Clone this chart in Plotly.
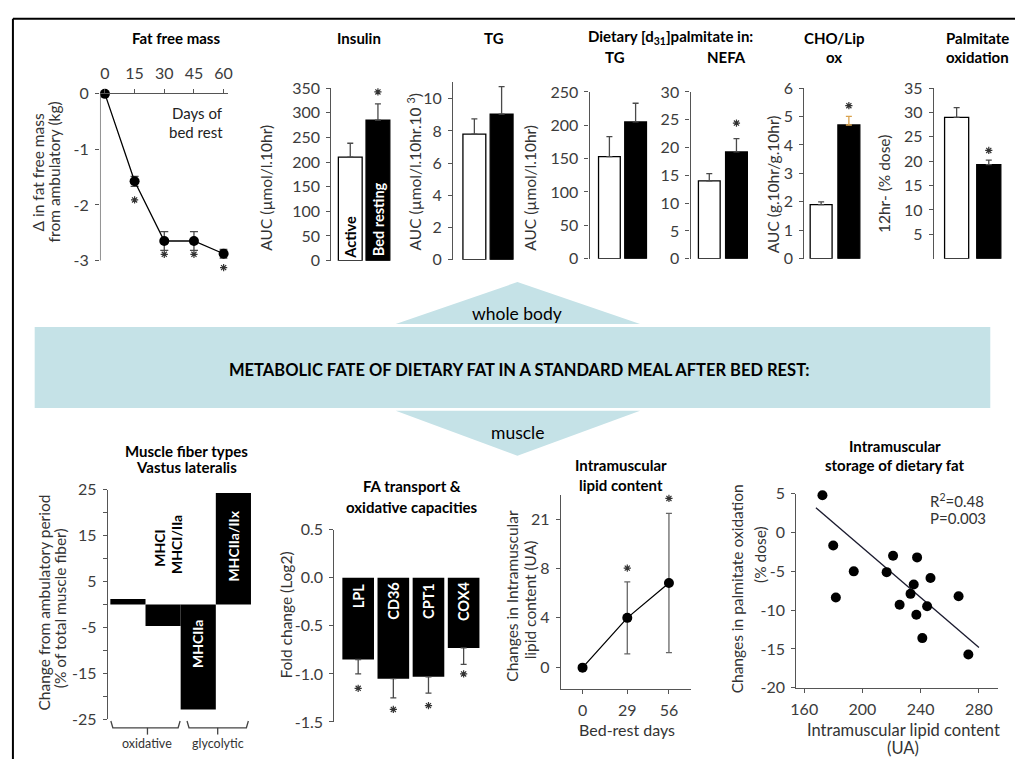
import plotly.graph_objects as go

W, H = 1020, 768
FONT = "Lato, 'Open Sans', sans-serif"
AX = "#555555"
TICKC = "#3c3c3c"
ERRC = "#4a4a4a"
BLUE = "#c5e2e7"
TICKSIZE = 16

# ---------------- data ----------------
ffm_days = [0, 15, 30, 45, 60]
ffm_delta = [0, -1.575, -2.65, -2.65, -2.88]
ffm_err = [0, 0.09, 0.17, 0.17, 0.08]
ffm_star_days = [15, 30, 45, 60]
ffm_star_y = [-1.91, -2.89, -2.89, -3.13]
ffm_xticks = [0, 15, 30, 45, 60]
ffm_yticks = [0, -1, -2, -3]

groups = ["Active", "Bed resting"]
insulin = [210, 285]
insulin_err = [28, 33]
insulin_star = 342
tg = [7.8, 9.05]
tg_err = [0.95, 1.7]
d31_tg = [153, 205]
d31_tg_err = [30, 28]
d31_tg_star = 256
d31_nefa = [14, 19.2]
d31_nefa_err = [1.3, 2.4]
d31_nefa_star = 24.4
cho_lip = [1.9, 4.7]
cho_lip_err = [0.1, 0.3]
cho_lip_star = 5.38
palm_ox = [29, 19.3]
palm_ox_err = [2, 0.9]
palm_ox_star = 22.2

fiber_types = ["MHCI", "MHCI/IIa", "MHCIIa", "MHCIIa/IIx"]
fiber_change = [1.2, -4.7, -22.9, 24.3]
fiber_major = [-25, -15, -5, 5, 15, 25]
fiber_minor = [-20, -10, 0, 10, 20]

fa_genes = ["LPL", "CD36", "CPT1", "COX4"]
fa_fold = [-0.85, -1.05, -1.03, -0.73]
fa_err = [0.15, 0.2, 0.17, 0.17]
fa_star = [-1.15, -1.37, -1.33, -1.0]
fa_ticks = [0.5, 0.0, -0.5, -1.0, -1.5]

imcl_days = [0, 29, 56]
imcl_change = [0, 4.0, 6.8]
imcl_err = [0, 2.9, 5.6]
imcl_star_days = [29, 56]
imcl_star_y = [8.0, 13.6]
imcl_tickvals = [0, 4, 8, 11.9]
imcl_ticktext = ["0", "4", "8", "21"]

imcl_x = [172.5, 179.9, 181.7, 194, 216.6, 221, 225.5, 233, 235.2, 237, 237.5,
          241.1, 244.4, 246.7, 266, 272.7]
palm_dy = [4.8, -1.66, -8.36, -5.0, -5.1, -3.0, -9.3, -7.9, -6.7, -10.6, -3.2,
           -13.6, -9.5, -5.85, -8.2, -15.7]
fit_x = [168, 280]
fit_y = [3.2, -14.8]
sc_xticks = [160, 200, 240, 280]
sc_yticks = [5, 0, -5, -10, -15, -20]


def px(x):
    return x / W


def py(y):
    return 1 - y / H


fig = go.Figure()
axes = {}
ann = []


def add_axes(i, xpx, ypx, xr, yr, xkw=None, ykw=None):
    xn = 'xaxis' if i == 1 else f'xaxis{i}'
    yn = 'yaxis' if i == 1 else f'yaxis{i}'
    xa = 'x' if i == 1 else f'x{i}'
    ya = 'y' if i == 1 else f'y{i}'
    base = dict(showgrid=False, zeroline=False, linecolor=AX, linewidth=1.3,
                tickcolor=AX, tickwidth=1.3, ticklen=4, showline=True,
                ticks='outside', ticklabelstandoff=3,
                tickfont=dict(family=FONT, size=TICKSIZE, color=TICKC), fixedrange=True)
    xd = dict(base, domain=[px(xpx[0]), px(xpx[1])], range=xr, anchor=ya)
    yd = dict(base, domain=[py(ypx[1]), py(ypx[0])], range=yr, anchor=xa)
    xd.update(xkw or {})
    yd.update(ykw or {})
    axes[xn] = xd
    axes[yn] = yd
    return xa, ya


HIDDEN_X = dict(showline=False, ticks='', showticklabels=False)


def star_trace(xs, ys, xa, ya):
    return go.Scatter(x=xs, y=ys, mode='markers', xaxis=xa, yaxis=ya,
                      marker=dict(symbol='asterisk-open', size=6, color='#333333',
                                  line=dict(color='#333333', width=1.2)),
                      cliponaxis=False, hoverinfo='skip')


def bar_label(text, x, y, xa, ya, color, size=14.5):
    ann.append(dict(text=text, x=x, y=y, xref=xa, yref=ya, showarrow=False, textangle=-90,
                    font=dict(family=FONT, size=size, color=color, weight='bold')))


shapes = []

# ---------- Panel 1: fat free mass ----------
xa, ya = add_axes(1, (95, 224), (86, 271), [-2.5, 62], [-3.25, 0],
                  xkw=dict(side='top', tickvals=ffm_xticks),
                  ykw=dict(showline=False, tickvals=ffm_yticks,
                           ticktext=[f"{v:g}" for v in ffm_yticks]))
shapes.append(dict(type='line', xref='x', yref='y', x0=-2.5, x1=-2.5,
                   y0=ffm_yticks[0], y1=ffm_yticks[-1], line=dict(color=AX, width=1.3)))
fig.add_trace(go.Scatter(x=ffm_days, y=ffm_delta, mode='lines+markers', xaxis=xa, yaxis=ya,
                         line=dict(color='black', width=1.3),
                         marker=dict(color='black', size=10),
                         error_y=dict(type='data', array=ffm_err, color=ERRC, thickness=1.3, width=4),
                         cliponaxis=False))
fig.add_trace(star_trace(ffm_star_days, ffm_star_y, xa, ya))


# ---------- top bar panels ----------
def bar_panel(i, xpx, ypx, xr, yr, vals, errs, star, width, ykw, err_colors=(ERRC, ERRC)):
    xa, ya = add_axes(i, xpx, ypx, xr, yr, xkw=HIDDEN_X, ykw=ykw)
    fills = ['white', 'black']
    for k in range(2):
        fig.add_trace(go.Bar(x=[k], y=[vals[k]], width=width, xaxis=xa, yaxis=ya,
                             marker=dict(color=fills[k], line=dict(color='black', width=1.3)),
                             error_y=dict(type='data', symmetric=False, array=[errs[k]],
                                          arrayminus=[0], color=err_colors[k], thickness=1.3, width=3)))
    if star is not None:
        fig.add_trace(star_trace([1], [star], xa, ya))
    return xa, ya


xa, ya = bar_panel(2, (329, 395), (80, 257), [-0.68, 1.68], [0, 350], insulin, insulin_err,
                   insulin_star, 0.86, dict(dtick=50, tick0=0))
bar_label(groups[0], 0, 47, xa, ya, 'black')
bar_label(groups[1], 1, 84, xa, ya, 'white')

bar_panel(3, (452, 520), (74, 256), [-0.78, 1.69], [0, 11.03], tg, tg_err, None,
          0.84, dict(tickvals=[0, 2, 4, 6, 8, 10]))
bar_panel(4, (590, 655), (84, 255), [-0.755, 1.70], [0, 250], d31_tg, d31_tg_err, d31_tg_star,
          0.83, dict(dtick=50, tick0=0))
bar_panel(5, (692, 756), (84, 255), [-0.69, 1.64], [0, 30], d31_nefa, d31_nefa_err, d31_nefa_star,
          0.8, dict(dtick=5, tick0=0))
bar_panel(6, (807, 870), (80, 255), [-0.607, 1.64], [0, 6], cho_lip, cho_lip_err, cho_lip_star,
          0.79, dict(dtick=1, tick0=0), err_colors=(ERRC, "#d9a24e"))
bar_panel(7, (938, 1012), (80, 255), [-0.708, 1.57], [0, 35], palm_ox, palm_ox_err, palm_ox_star,
          0.75, dict(tickvals=[5, 10, 15, 20, 25, 30, 35]))

# ---------- Panel 8: fiber types ----------
xa, ya = add_axes(8, (103, 248), (492, 727), [-0.57, 3.51], [-25, 25], xkw=HIDDEN_X,
                  ykw=dict(tickvals=fiber_major, ticktext=[f"{v:g}" for v in fiber_major],
                           minor=dict(tickvals=fiber_minor, ticks='outside', ticklen=4,
                                      tickcolor=AX, tickwidth=1.3)))
fig.add_trace(go.Bar(x=list(range(len(fiber_types))), y=fiber_change, width=1.0, xaxis=xa, yaxis=ya,
                     marker=dict(color='black', line=dict(width=0))))
for t, x, y, c in zip(fiber_types, [0.89, 1.40, 2.0, 3.0], [12.2, 13.0, -8.6, 12.7],
                      ['black', 'black', 'white', 'white']):
    bar_label(t, x, y, xa, ya, c, size=14)

# ---------- Panel 9: FA transport ----------
xa, ya = add_axes(9, (332, 485), (533, 730), [-0.676, 3.63], [-1.5, 0.5], xkw=HIDDEN_X,
                  ykw=dict(tickvals=fa_ticks, ticktext=[f"{v:.1f}" for v in fa_ticks]))
fig.add_trace(go.Bar(x=list(range(len(fa_genes))), y=fa_fold, width=0.9, xaxis=xa, yaxis=ya,
                     marker=dict(color='black', line=dict(width=0)),
                     error_y=dict(type='data', symmetric=False, array=[0] * 4, arrayminus=fa_err,
                                  color=ERRC, thickness=1.3, width=3)))
for k, (t, y) in enumerate(zip(fa_genes, [-0.19, -0.245, -0.235, -0.245])):
    bar_label(t, k, y, xa, ya, 'white')
fig.add_trace(star_trace(list(range(len(fa_genes))), fa_star, xa, ya))

# ---------- Panel 10: intramuscular lipid ----------
xa, ya = add_axes(10, (561, 692), (497, 696), [-14, 70], [-1.7, 13.9],
                  xkw=dict(tickvals=imcl_days),
                  ykw=dict(tickvals=imcl_tickvals, ticktext=imcl_ticktext))
fig.add_trace(go.Scatter(x=imcl_days, y=imcl_change, mode='lines+markers', xaxis=xa, yaxis=ya,
                         line=dict(color='black', width=1.3),
                         marker=dict(color='black', size=10),
                         error_y=dict(type='data', array=imcl_err, color='#666666', thickness=1.3, width=3),
                         cliponaxis=False))
fig.add_trace(star_trace(imcl_star_days, imcl_star_y, xa, ya))

# ---------- Panel 11: scatter ----------
xa, ya = add_axes(11, (799, 1003), (496, 695), [154.6, 293.2], [-20, 5],
                  xkw=dict(tickvals=sc_xticks),
                  ykw=dict(tickvals=sc_yticks, ticktext=[f"{v:g}" for v in sc_yticks]))
fig.add_trace(go.Scatter(x=fit_x, y=fit_y, mode='lines', xaxis=xa, yaxis=ya,
                         line=dict(color='#1a1a2e', width=1.3)))
fig.add_trace(go.Scatter(x=imcl_x, y=palm_dy, mode='markers', xaxis=xa, yaxis=ya,
                         marker=dict(color='black', size=10), cliponaxis=False))


# ---------------- annotations ----------------
def A(text, x, y, size=15, bold=False, color='black', angle=0, xanchor='center'):
    ann.append(dict(text=text, x=px(x), y=py(y), xref='paper', yref='paper', showarrow=False,
                    font=dict(family=FONT, size=size, color=color,
                              weight='bold' if bold else 'normal'),
                    textangle=angle, xanchor=xanchor, yanchor='middle'))


# titles
for t, x, y in [("Fat free mass", 172, 29), ("Insulin", 357, 29), ("TG", 493, 29),
                ("Dietary [d<sub>31</sub>]palmitate in:", 672, 28), ("TG", 616, 48),
                ("NEFA", 728, 48), ("CHO/Lip", 837, 29), ("ox", 837, 48),
                ("Palmitate", 982, 29), ("oxidation", 982, 48),
                ("Muscle fiber types", 182, 452), ("Vastus lateralis", 182, 469),
                ("FA transport &", 410, 488), ("oxidative capacities", 410, 510),
                ("Intramuscular", 622, 467), ("lipid content", 622, 487),
                ("Intramuscular", 899, 447), ("storage of dietary fat", 899, 467)]:
    A(t, x, y, size=15, bold=True)

A("Days of", 221, 106, size=15, color='#222', xanchor='right')
A("bed rest", 221, 125, size=15, color='#222', xanchor='right')

# y titles
for t, x, y in [("Δ in fat free mass", 32, 166), ("from ambulatory (kg)", 48, 166),
                ("AUC (µmol/l.10hr)", 263, 182), ("AUC (µmol/l.10hr.10 <sup>3</sup>)", 413, 166),
                ("AUC (µmol/l.10hr)", 530, 182), ("AUC (g.10hr/g.10hr)", 775, 179),
                ("12hr- (% dose)", 887, 178),
                ("Change from ambulatory period", 38, 608), ("(% of total muscle fiber)", 54, 613),
                ("Fold change (Log2)", 283, 620),
                ("Changes in Intramuscular", 512, 600), ("lipid content (UA)", 530, 605),
                ("Changes in palmitate oxidation", 739, 594), ("(% dose)", 762, 558)]:
    A(t, x, y, size=15.5, color='#333', angle=-90)

# x titles
A("Bed-rest days", 628, 738, size=16, color='#333')
A("Intramuscular lipid content", 907, 738, size=16.5, color='#333')
A("(UA)", 907, 757, size=16.5, color='#333')
A("oxidative", 143, 752, size=12.5, color='#333')
A("glycolytic", 214, 752, size=12.5, color='#333')
A("R<sup>2</sup>=0.48", 932, 503, size=15, color='#333', xanchor='left')
A("P=0.003", 932, 521, size=15, color='#333', xanchor='left')

# banner text
A("whole body", 517, 311, size=17.5)
A("METABOLIC FATE OF DIETARY FAT IN A STANDARD MEAL AFTER BED REST:", 519, 369, size=16.5, bold=True)
A("muscle", 517, 433, size=17.5)


# ---------------- shapes ----------------
def P(pts, close=True):
    s = "M " + " L ".join(f"{px(x):.5f},{py(y):.5f}" for x, y in pts)
    return s + (" Z" if close else "")


shapes += [
    dict(type='rect', xref='paper', yref='paper', x0=px(29), x1=px(995), y0=py(408), y1=py(325),
         fillcolor=BLUE, line=dict(width=0), layer='below'),
    dict(type='path', xref='paper', yref='paper', path=P([(394, 322), (517, 279), (641, 322)]),
         fillcolor=BLUE, line=dict(width=0), layer='below'),
    dict(type='path', xref='paper', yref='paper', path=P([(394, 411), (641, 411), (517, 457)]),
         fillcolor=BLUE, line=dict(width=0), layer='below'),
    # frame
    dict(type='line', xref='paper', yref='paper', x0=px(7), x1=1.0, y0=py(9), y1=py(9),
         line=dict(color='black', width=2)),
    dict(type='line', xref='paper', yref='paper', x0=px(7), x1=px(7), y0=py(9), y1=0,
         line=dict(color='black', width=2)),
]
# brackets
for x0, xc, x1 in [(106, 143, 176), (183, 214, 245)]:
    shapes.append(dict(type='path', xref='paper', yref='paper',
                       path=P([(x0, 729), (x0 + 2, 736), (x1 - 2, 736), (x1, 729)], close=False),
                       line=dict(color='#444', width=1.3)))
    shapes.append(dict(type='line', xref='paper', yref='paper', x0=px(xc), x1=px(xc),
                       y0=py(736), y1=py(743), line=dict(color='#444', width=1.3)))

fig.update_layout(width=W, height=H, margin=dict(l=0, r=0, t=0, b=0),
                  paper_bgcolor='white', plot_bgcolor='rgba(0,0,0,0)',
                  showlegend=False, barmode='overlay',
                  annotations=ann, shapes=shapes, **axes)

fig.write_html("out.html", config={'displayModeBar': False})
